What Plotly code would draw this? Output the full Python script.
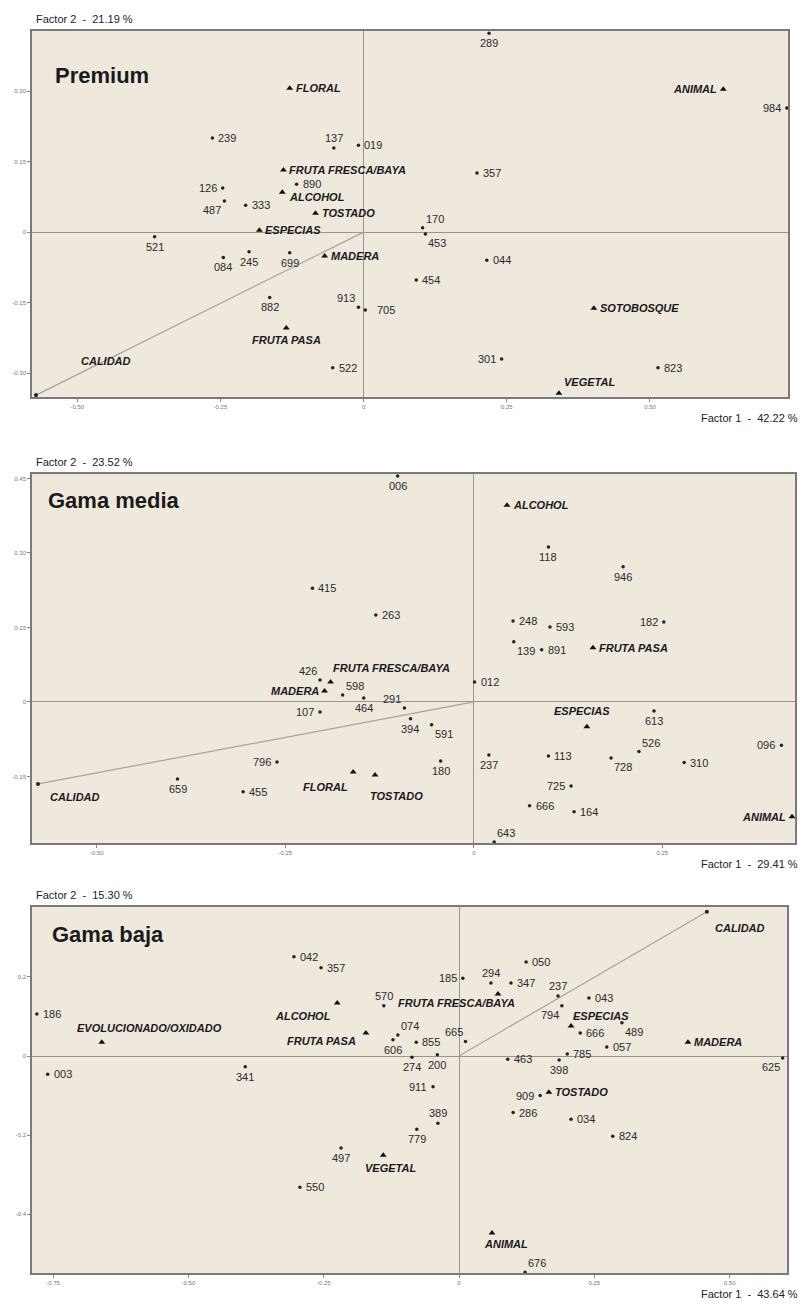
import plotly.graph_objects as go

# page has an 8px body margin: build the figure 800x1297 and map reference pixels accordingly
OFF = 8
W, H = 808 - OFF, 1305 - OFF

# ---------------- DATA ----------------
# Panel 1: Premium
s1_names = ["289","984","239","137","019","357","126","890","487","333","170","453","521","084",
            "245","699","044","454","882","913","705","522","823","301"]
s1_x = [0.219,0.739,-0.264,-0.052,-0.009,0.198,-0.246,-0.117,-0.243,-0.206,0.103,0.108,-0.365,-0.245,
        -0.200,-0.129,0.215,0.092,-0.164,-0.009,0.003,-0.054,0.514,0.241]
s1_y = [0.423,0.264,0.200,0.179,0.185,0.126,0.094,0.102,0.066,0.057,0.009,-0.004,-0.010,-0.054,
        -0.042,-0.044,-0.060,-0.102,-0.139,-0.160,-0.166,-0.289,-0.289,-0.270]
a1_names = ["FLORAL","ANIMAL","FRUTA FRESCA/BAYA","ALCOHOL","TOSTADO","ESPECIAS","MADERA",
            "SOTOBOSQUE","FRUTA PASA","VEGETAL"]
a1_x = [-0.129,0.628,-0.140,-0.142,-0.084,-0.182,-0.068,0.402,-0.135,0.341]
a1_y = [0.306,0.304,0.132,0.085,0.040,0.004,-0.051,-0.162,-0.204,-0.343]
cal1 = [-0.572, -0.347]

# Panel 2: Gama media
s2_names = ["006","118","946","415","263","248","593","182","139","891","426","598","012","464",
            "291","394","107","591","613","096","526","113","728","310","237","180","796","659",
            "455","725","666","164","643"]
s2_x = [-0.101,0.099,0.198,-0.214,-0.130,0.052,0.101,0.252,0.053,0.090,-0.204,-0.174,0.001,-0.146,
        -0.092,-0.084,-0.204,-0.056,0.239,0.408,0.219,0.099,0.182,0.279,0.020,-0.044,-0.261,-0.393,
        -0.306,0.129,0.074,0.133,0.027]
s2_y = [0.455,0.312,0.272,0.229,0.175,0.163,0.151,0.161,0.121,0.105,0.044,0.014,0.040,0.008,
        -0.012,-0.034,-0.020,-0.046,-0.018,-0.087,-0.100,-0.109,-0.113,-0.122,-0.107,-0.119,-0.121,-0.155,
        -0.181,-0.169,-0.209,-0.221,-0.282]
a2_names = ["ALCOHOL","FRUTA PASA","FRUTA FRESCA/BAYA","MADERA","ESPECIAS","FLORAL","TOSTADO","ANIMAL"]
a2_x = [0.044,0.158,-0.190,-0.198,0.150,-0.160,-0.131,0.422]
a2_y = [0.396,0.109,0.040,0.022,-0.050,-0.141,-0.147,-0.231]
cal2 = [-0.578, -0.165]

# Panel 3: Gama baja
s3_names = ["042","357","050","185","294","347","237","186","570","043","794","666","489","074",
            "606","855","665","057","785","625","463","398","274","200","003","341","911","909",
            "286","389","034","824","779","497","550","676"]
s3_x = [-0.305,-0.255,0.124,0.007,0.059,0.096,0.183,-0.780,-0.139,0.240,0.190,0.224,0.301,-0.113,
        -0.122,-0.079,0.012,0.273,0.200,0.598,0.090,0.185,-0.087,-0.040,-0.760,-0.395,-0.048,0.150,
        0.100,-0.039,0.207,0.284,-0.078,-0.218,-0.294,0.122]
s3_y = [0.251,0.223,0.238,0.197,0.185,0.185,0.152,0.106,0.127,0.147,0.127,0.058,0.084,0.053,
        0.041,0.035,0.037,0.023,0.005,-0.005,-0.008,-0.010,-0.003,0.003,-0.046,-0.027,-0.078,-0.100,
        -0.143,-0.170,-0.160,-0.203,-0.185,-0.233,-0.332,-0.547]
a3_names = ["FRUTA FRESCA/BAYA","ALCOHOL","ESPECIAS","EVOLUCIONADO/OXIDADO","FRUTA PASA","MADERA",
            "TOSTADO","VEGETAL","ANIMAL"]
a3_x = [0.072,-0.225,0.207,-0.660,-0.172,0.423,0.166,-0.140,0.061]
a3_y = [0.157,0.134,0.076,0.035,0.058,0.035,-0.092,-0.251,-0.448]
cal3 = [0.458, 0.365]

titles = ["Premium", "Gama media", "Gama baja"]
f1_titles = ["Factor 1  -  42.22 %", "Factor 1  -  29.41 %", "Factor 1  -  43.64 %"]
f2_titles = ["Factor 2  -  21.19 %", "Factor 2  -  23.52 %", "Factor 2  -  15.30 %"]

xticks = [[-0.50, -0.25, 0, 0.25, 0.50],
          [-0.50, -0.25, 0, 0.25],
          [-0.75, -0.50, -0.25, 0, 0.25, 0.50]]
yticks = [[-0.30, -0.15, 0, 0.15, 0.30],
          [-0.15, 0, 0.15, 0.30, 0.45],
          [-0.4, -0.2, 0, 0.2]]
ytick_fmt = ["%.2f", "%.2f", "%.1f"]

# ---------------- STYLE / LAYOUT ----------------
xranges = [[-0.579, 0.741], [-0.586, 0.426], [-0.789, 0.606]]
yranges = [[-0.351, 0.428], [-0.284, 0.459], [-0.549, 0.377]]
# pixel boxes in the reference (left, top, right, bottom)
boxes = [(32, 31, 788, 397), (32, 474, 795, 843), (32, 907, 787, 1273)]
title_px = [(53, 76), (46, 500), (50, 934)]

S = {"r": ("left", "middle", 4, 0), "l": ("right", "middle", -4, 0),
     "t": ("center", "bottom", 0, 2), "b": ("center", "top", 0, -2),
     "tr": ("left", "bottom", 1, 1), "tl": ("right", "bottom", -1, 1),
     "br": ("left", "top", 1, -1), "bl": ("right", "top", -1, -1)}

pos_s = [
    {"289":"b","984":"l","239":"r","137":"t","019":"r","357":"r","126":"l","890":"r","487":"bl",
     "333":"r","170":"tr","453":"br","521":"b","084":"b","245":"b","699":"b","044":"r","454":"r",
     "882":"b","913":"tl","705":("left","middle",10,0),"522":"r","823":"r","301":"l"},
    {"006":"b","118":"b","946":"b","415":"r","263":"r","248":"r","593":"r","182":"l","139":"br",
     "891":"r","426":"tl","598":"tr","012":"r","464":"b","291":"tl","394":"b","107":"l","591":"br",
     "613":"b","096":"l","526":"tr","113":"r","728":"br","310":"r","237":"b","180":"b","796":"l",
     "659":"b","455":"r","725":"l","666":"r","164":"r","643":"tr"},
    {"042":"r","357":"r","050":"r","185":"l","294":"t","347":"r","237":"t","186":"r","570":"t",
     "043":"r","794":"bl","666":"r","489":"br","074":"tr","606":"b","855":"r","665":"tl","057":"r",
     "785":"r","625":"bl","463":"r","398":"b","274":"b","200":"b","003":"r","341":"b","911":"l",
     "909":"l","286":"r","389":"t","034":"r","824":"r","779":"b","497":"b","550":"r","676":"tr"},
]
pos_a = [
    {"FLORAL":"r","ANIMAL":"l","FRUTA FRESCA/BAYA":"r","ALCOHOL":("left","middle",5,-5),
     "TOSTADO":"r","ESPECIAS":"r","MADERA":"r","SOTOBOSQUE":"r","FRUTA PASA":("center","top",0,-4),
     "VEGETAL":("left","bottom",3,3),"CALIDAD":("left","middle",43,34)},
    {"ALCOHOL":"r","FRUTA PASA":"r","FRUTA FRESCA/BAYA":("left","bottom",0,6),"MADERA":"l",
     "ESPECIAS":("center","middle",-5,16),"FLORAL":("right","middle",-3,-15),
     "TOSTADO":("left","middle",-7,-21),"ANIMAL":"l","CALIDAD":("left","middle",10,-13)},
    {"FRUTA FRESCA/BAYA":("center","middle",-41,-9),"ALCOHOL":("right","middle",-4,-13),
     "ESPECIAS":("left","middle",0,10),"EVOLUCIONADO/OXIDADO":("left","middle",-27,14),
     "FRUTA PASA":("right","middle",-8,-8),"MADERA":"r","TOSTADO":"r",
     "VEGETAL":("left","middle",-20,-13),"ANIMAL":("left","middle",-10,-11),
     "CALIDAD":("left","middle",6,-16)},
]

FONT = "Liberation Sans, Arial, sans-serif"
BG = "#efe8dd"
FRAME = "#7a7a7a"

samples = [(s1_names, s1_x, s1_y), (s2_names, s2_x, s2_y), (s3_names, s3_x, s3_y)]
attrs = [(a1_names, a1_x, a1_y), (a2_names, a2_x, a2_y), (a3_names, a3_x, a3_y)]
cals = [cal1, cal2, cal3]

fig = go.Figure()
annotations = []
shapes = []

def px2paper(px, py):
    return (px - OFF) / W, 1 - (py - OFF) / H

for i in range(3):
    sfx = "" if i == 0 else str(i + 1)
    xref, yref = "x" + sfx, "y" + sfx
    l, t, r, b = boxes[i]
    x0, y1p = px2paper(l, t)
    x1, y0p = px2paper(r, b)

    shapes.append(dict(type="rect", xref="paper", yref="paper", x0=x0, x1=x1, y0=y0p, y1=y1p,
                       fillcolor=BG, line=dict(width=0), layer="below"))

    cx, cy = cals[i]
    fig.add_trace(go.Scatter(x=[0, cx], y=[0, cy], mode="lines",
                             line=dict(color="#a8a39a", width=1.2),
                             xaxis=xref, yaxis=yref, hoverinfo="skip", showlegend=False))
    fig.add_trace(go.Scatter(x=[cx], y=[cy], mode="markers",
                             marker=dict(color="#222", size=4),
                             xaxis=xref, yaxis=yref, showlegend=False))

    nm, xs, ys = samples[i]
    fig.add_trace(go.Scatter(x=xs, y=ys, mode="markers", text=nm,
                             marker=dict(color="#222", size=3.5),
                             xaxis=xref, yaxis=yref, showlegend=False))
    for n, xv, yv in zip(nm, xs, ys):
        p = pos_s[i].get(n, "r")
        xa, ya, xsft, ysft = S[p] if isinstance(p, str) else p
        annotations.append(dict(x=xv, y=yv, xref=xref, yref=yref, text=n, showarrow=False,
                                xanchor=xa, yanchor=ya, xshift=xsft, yshift=ysft,
                                font=dict(family=FONT, size=11, color="#2a2a2a")))

    nm, xs, ys = attrs[i]
    fig.add_trace(go.Scatter(x=xs, y=ys, mode="markers", text=nm,
                             marker=dict(color="#111", size=6, symbol="triangle-up"),
                             xaxis=xref, yaxis=yref, showlegend=False))
    for n, xv, yv in zip(nm + ["CALIDAD"], xs + [cx], ys + [cy]):
        p = pos_a[i].get(n, "r")
        xa, ya, xsft, ysft = S[p] if isinstance(p, str) else p
        annotations.append(dict(x=xv, y=yv, xref=xref, yref=yref, text="<b><i>%s</i></b>" % n,
                                showarrow=False, xanchor=xa, yanchor=ya, xshift=xsft, yshift=ysft,
                                font=dict(family=FONT, size=11, color="#1a1a1a")))

    tx, ty = px2paper(*title_px[i])
    annotations.append(dict(x=tx, y=ty, xref="paper", yref="paper", text="<b>%s</b>" % titles[i],
                            showarrow=False, xanchor="left", yanchor="middle",
                            font=dict(family=FONT, size=22, color="#1a1a1a")))
    fx, fy = px2paper(34, t - 12)
    annotations.append(dict(x=fx, y=fy, xref="paper", yref="paper", text=f2_titles[i],
                            showarrow=False, xanchor="left", yanchor="middle",
                            font=dict(family=FONT, size=11, color="#222")))
    gx, gy = px2paper(800, b + 21)
    annotations.append(dict(x=gx, y=gy, xref="paper", yref="paper", text=f1_titles[i],
                            showarrow=False, xanchor="right", yanchor="middle",
                            font=dict(family=FONT, size=11, color="#222")))

    axis_common = dict(showgrid=False, zeroline=True, zerolinecolor="#9a958c", zerolinewidth=1,
                       showline=True, linecolor=FRAME, linewidth=1.5, mirror=True,
                       ticks="outside", ticklen=3, tickcolor="#888",
                       tickfont=dict(family=FONT, size=6, color="#777"))
    xt = xticks[i]
    yt = yticks[i]
    fig.layout["xaxis" + sfx] = dict(axis_common, domain=[x0, x1], range=xranges[i],
                                     anchor=yref, tickvals=xt,
                                     ticktext=["0" if v == 0 else "%.2f" % v for v in xt])
    fig.layout["yaxis" + sfx] = dict(axis_common, domain=[y0p, y1p], range=yranges[i],
                                     anchor=xref, tickvals=yt,
                                     ticktext=["0" if v == 0 else ytick_fmt[i] % v for v in yt])

fig.update_layout(width=W, height=H, margin=dict(l=0, r=0, t=0, b=0),
                  paper_bgcolor="white", plot_bgcolor=BG,
                  annotations=annotations, shapes=shapes, showlegend=False,
                  font=dict(family=FONT))
fig.write_html("out.html")
